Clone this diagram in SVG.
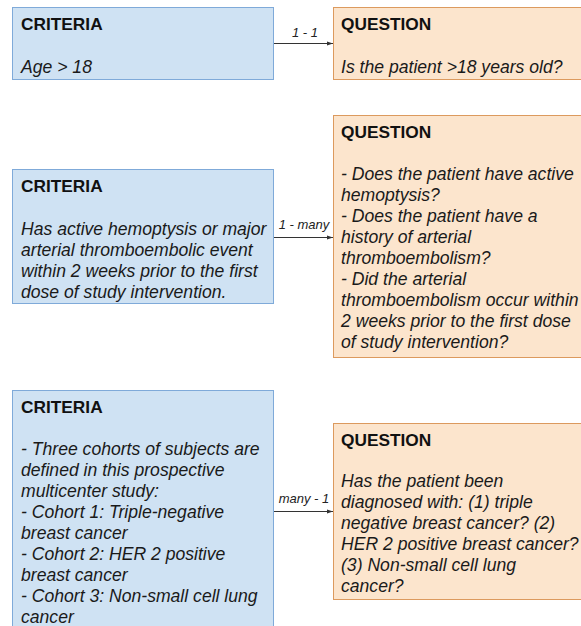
<svg xmlns="http://www.w3.org/2000/svg" width="581" height="626" viewBox="0 0 581 626">
<style>
.crit{fill:#cfe2f3;stroke:#7faad9;stroke-width:1}
.ques{fill:#fce5cd;stroke:#dc9a5e;stroke-width:1}
.t{font-family:"Liberation Sans",Arial,sans-serif;font-size:17.3px;font-weight:bold;fill:#111}
.b{font-family:"Liberation Sans",Arial,sans-serif;font-size:17.6px;font-style:italic;fill:#1a1a1a}
.lbl{font-family:"Liberation Sans",Arial,sans-serif;font-size:13px;font-style:italic;fill:#222;text-anchor:middle}
.conn{stroke:#333;stroke-width:1;fill:none}
</style>
<defs>
<marker id="ah" viewBox="0 0 6 6" refX="6" refY="3" markerWidth="6" markerHeight="6" markerUnits="userSpaceOnUse" orient="auto">
<path d="M0,1 L6,3 L0,5 Z" fill="#333"/>
</marker>
</defs>
<rect width="581" height="626" fill="#fff"/>

<g id="criteria1">
<rect class="crit" x="12.5" y="7.5" width="261" height="72"/>
<text class="t" x="21" y="30">CRITERIA</text>
<text class="b" x="21" y="73">Age &gt; 18</text>
</g>
<g id="question1">
<rect class="ques" x="333.5" y="7.5" width="260" height="72"/>
<text class="t" x="341" y="30">QUESTION</text>
<text class="b" x="341" y="73">Is the patient &gt;18 years old?</text>
</g>

<g id="criteria2">
<rect class="crit" x="12.5" y="169.5" width="261" height="134"/>
<text class="t" x="21" y="192">CRITERIA</text>
<text class="b" x="21" y="235">
<tspan x="21" y="235">Has active hemoptysis or major</tspan>
<tspan x="21" y="256">arterial thromboembolic event</tspan>
<tspan x="21" y="277">within 2 weeks prior to the first</tspan>
<tspan x="21" y="298">dose of study intervention.</tspan>
</text>
</g>
<g id="question2">
<rect class="ques" x="333.5" y="115.5" width="260" height="242"/>
<text class="t" x="341" y="138">QUESTION</text>
<text class="b" x="341" y="180">
<tspan x="341" y="180">- Does the patient have active</tspan>
<tspan x="341" y="201">hemoptysis?</tspan>
<tspan x="341" y="222">- Does the patient have a</tspan>
<tspan x="341" y="243">history of arterial</tspan>
<tspan x="341" y="264">thromboembolism?</tspan>
<tspan x="341" y="285">- Did the arterial</tspan>
<tspan x="341" y="306">thromboembolism occur within</tspan>
<tspan x="341" y="327">2 weeks prior to the first dose</tspan>
<tspan x="341" y="348">of study intervention?</tspan>
</text>
</g>

<g id="criteria3">
<rect class="crit" x="12.5" y="390.5" width="261" height="250"/>
<text class="t" x="21" y="413">CRITERIA</text>
<text class="b" x="21" y="455">
<tspan x="21" y="455">- Three cohorts of subjects are</tspan>
<tspan x="21" y="476">defined in this prospective</tspan>
<tspan x="21" y="497">multicenter study:</tspan>
<tspan x="21" y="518">- Cohort 1: Triple-negative</tspan>
<tspan x="21" y="539">breast cancer</tspan>
<tspan x="21" y="560">- Cohort 2: HER 2 positive</tspan>
<tspan x="21" y="581">breast cancer</tspan>
<tspan x="21" y="602">- Cohort 3: Non-small cell lung</tspan>
<tspan x="21" y="623">cancer</tspan>
</text>
</g>
<g id="question3">
<rect class="ques" x="333.5" y="423.5" width="260" height="176"/>
<text class="t" x="341" y="446">QUESTION</text>
<text class="b" x="341" y="487">
<tspan x="341" y="487">Has the patient been</tspan>
<tspan x="341" y="508">diagnosed with: (1) triple</tspan>
<tspan x="341" y="529">negative breast cancer? (2)</tspan>
<tspan x="341" y="550">HER 2 positive breast cancer?</tspan>
<tspan x="341" y="571">(3) Non-small cell lung</tspan>
<tspan x="341" y="592">cancer?</tspan>
</text>
</g>

<g id="connectors">
<line class="conn" x1="274" y1="43.5" x2="333" y2="43.5" marker-end="url(#ah)"/>
<text class="lbl" x="305" y="37">1 - 1</text>
<line class="conn" x1="274" y1="237.5" x2="333" y2="237.5" marker-end="url(#ah)"/>
<text class="lbl" x="304" y="229">1 - many</text>
<line class="conn" x1="274" y1="511.5" x2="333" y2="511.5" marker-end="url(#ah)"/>
<text class="lbl" x="304" y="503">many - 1</text>
</g>
</svg>
